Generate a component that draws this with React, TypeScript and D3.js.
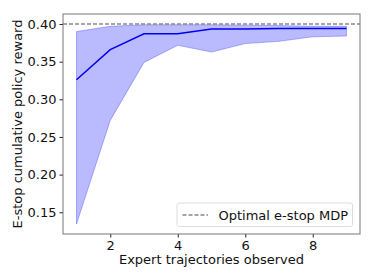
import { useEffect, useRef } from 'react';
import * as d3 from 'd3';

const trajectories = [1, 2, 3, 4, 5, 6, 7, 8, 9];
const meanReward = [0.326, 0.366, 0.387, 0.387, 0.3933, 0.3935, 0.394, 0.394, 0.394];
const upperReward = [0.390, 0.397, 0.399, 0.399, 0.399, 0.3985, 0.398, 0.397, 0.397];
const lowerReward = [0.1344, 0.272, 0.349, 0.3717, 0.3628, 0.374, 0.377, 0.383, 0.384];
const optimalReward = 0.40;
const xTicks = [2, 4, 6, 8];
const yTicks = [0.15, 0.2, 0.25, 0.3, 0.35, 0.4];

const WIDTH = 374;
const HEIGHT = 280;
const FONT = 'DejaVu Sans, sans-serif';

export default function App() {
  const svgRef = useRef<SVGSVGElement>(null);

  useEffect(() => {
    if (!svgRef.current) return;
    const svg = d3.select(svgRef.current);
    svg.selectAll('*').remove();

    const margin = { top: 14, right: 14, bottom: 46, left: 63 };
    const innerWidth = WIDTH - margin.left - margin.right;
    const innerHeight = HEIGHT - margin.top - margin.bottom;

    const g = svg.append('g').attr('transform', `translate(${margin.left},${margin.top})`);

    const x = d3.scaleLinear().domain([0.6, 9.4]).range([0, innerWidth]);
    const y = d3.scaleLinear().domain([0.1211, 0.4133]).range([innerHeight, 0]);

    const rows = trajectories.map((t, i) => ({
      t,
      mean: meanReward[i],
      lo: lowerReward[i],
      hi: upperReward[i],
    }));

    // banda
    const area = d3.area<typeof rows[0]>()
      .x(d => x(d.t))
      .y0(d => y(d.lo))
      .y1(d => y(d.hi));

    g.append('path')
      .datum(rows)
      .attr('d', area)
      .attr('fill', '#0000ff')
      .attr('fill-opacity', 0.27)
      .attr('stroke', '#0000ff')
      .attr('stroke-opacity', 0.27)
      .attr('stroke-width', 1);

    const line = d3.line<typeof rows[0]>()
      .x(d => x(d.t))
      .y(d => y(d.mean));

    g.append('path')
      .datum(rows)
      .attr('d', line)
      .attr('fill', 'none')
      .attr('stroke', '#0000ee')
      .attr('stroke-width', 1.5);

    // línea óptima
    g.append('line')
      .attr('x1', 0)
      .attr('x2', innerWidth)
      .attr('y1', y(optimalReward))
      .attr('y2', y(optimalReward))
      .attr('stroke', '#888')
      .attr('stroke-width', 1.5)
      .attr('stroke-dasharray', '4,2');

    // ejes
    const xAxis = g.append('g')
      .attr('transform', `translate(0,${innerHeight})`)
      .call(d3.axisBottom(x).tickValues(xTicks).tickSize(3.5).tickPadding(3).tickFormat(d3.format('d')));
    const yAxis = g.append('g')
      .call(d3.axisLeft(y).tickValues(yTicks).tickSize(3.5).tickPadding(3).tickFormat(d3.format('.2f')));

    [xAxis, yAxis].forEach(a => {
      a.select('.domain').remove();
      a.selectAll('line').attr('stroke', '#222');
      a.selectAll('text')
        .attr('font-family', FONT)
        .attr('font-size', '13px')
        .attr('fill', '#111');
    });

    g.append('rect')
      .attr('width', innerWidth)
      .attr('height', innerHeight)
      .attr('fill', 'none')
      .attr('stroke', '#777')
      .attr('stroke-width', 1);

    g.append('text')
      .attr('x', innerWidth / 2)
      .attr('y', innerHeight + 30)
      .attr('text-anchor', 'middle')
      .attr('font-family', FONT)
      .attr('font-size', '13px')
      .attr('fill', '#111')
      .text('Expert trajectories observed');

    g.append('text')
      .attr('transform', 'rotate(-90)')
      .attr('x', -innerHeight / 2)
      .attr('y', -41)
      .attr('text-anchor', 'middle')
      .attr('font-family', FONT)
      .attr('font-size', '13px')
      .attr('fill', '#111')
      .text('E-stop cumulative policy reward');

    // leyenda
    const legend = g.append('g').attr('transform', `translate(${innerWidth - 183},${innerHeight - 31})`);
    legend.append('rect')
      .attr('width', 175.5)
      .attr('height', 23.5)
      .attr('rx', 2)
      .attr('fill', '#fff')
      .attr('fill-opacity', 0.8)
      .attr('stroke', '#ddd');
    legend.append('line')
      .attr('x1', 5.5)
      .attr('x2', 31)
      .attr('y1', 12)
      .attr('y2', 12)
      .attr('stroke', '#888')
      .attr('stroke-width', 1.5)
      .attr('stroke-dasharray', '4,2');
    legend.append('text')
      .attr('x', 41.5)
      .attr('y', 16.5)
      .attr('font-family', FONT)
      .attr('font-size', '13px')
      .attr('fill', '#111')
      .text('Optimal e-stop MDP');
  }, []);

  return (
    <svg
      ref={svgRef}
      width={WIDTH}
      height={HEIGHT}
      style={{ display: 'block', position: 'absolute', left: 0, top: 0 }}
    />
  );
}
